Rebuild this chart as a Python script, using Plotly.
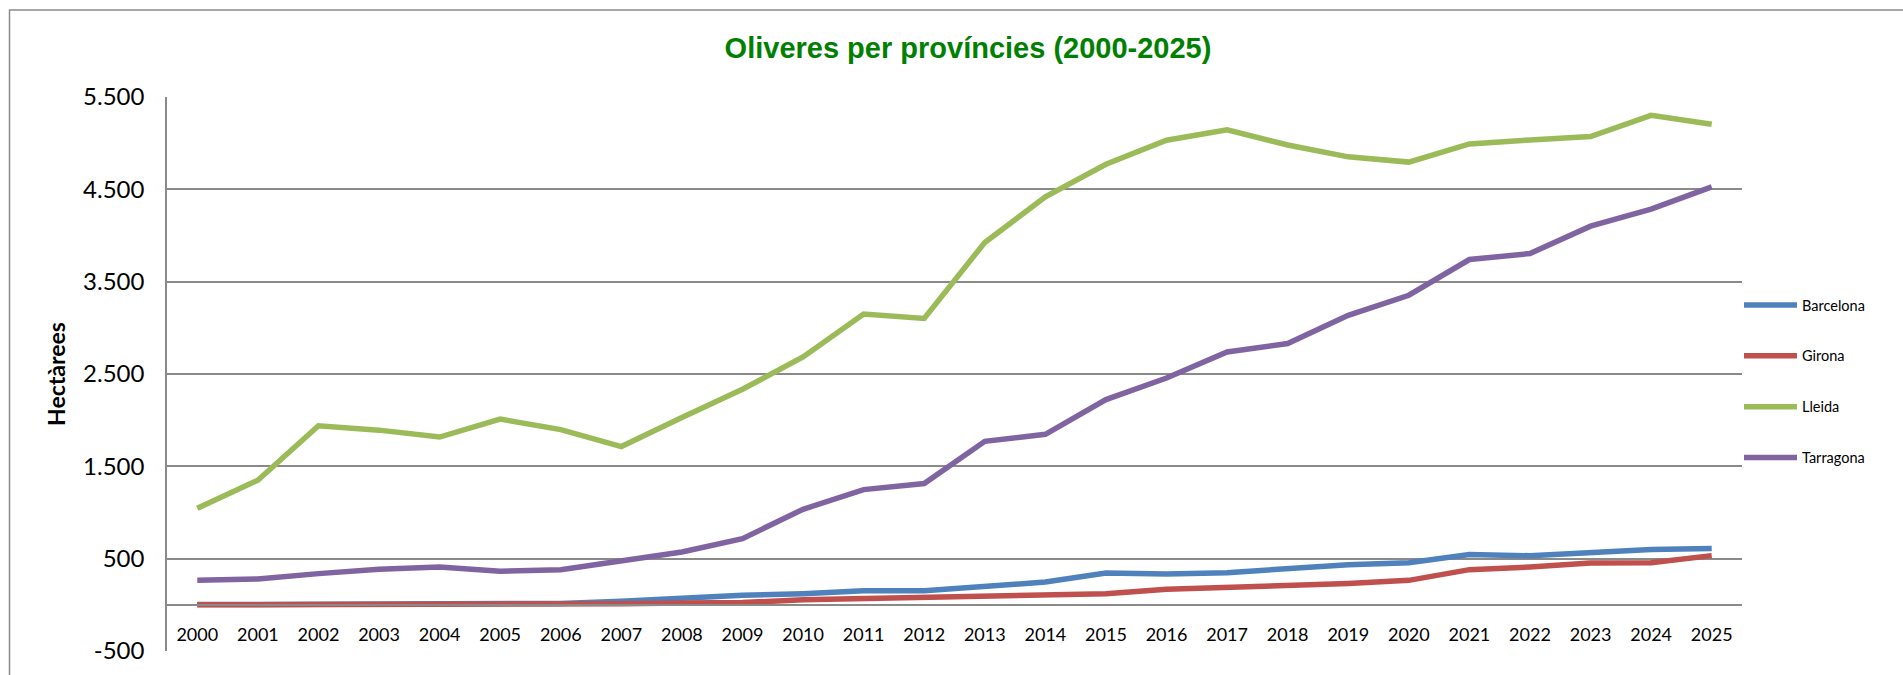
import plotly.graph_objects as go

years = [str(y) for y in range(2000, 2026)]

barcelona = [3, 3, 3, 3, 3, 8, 15, 40, 74, 103, 121, 153, 153, 204, 247, 345, 335, 348, 388, 435, 457, 544, 532, 565, 598, 609]
girona = [0, 0, 0, 0, 0, 5, 8, 12, 20, 24, 56, 70, 70, 85, 103, 121, 168, 190, 204, 230, 265, 381, 410, 453, 457, 533]
lleida = [1045, 1350, 1940, 1892, 1817, 2012, 1898, 1714, 2030, 2335, 2685, 3150, 3102, 3925, 4418, 4772,
          5032, 5145, 4980, 4852, 4795, 4992, 5035, 5072, 5302, 5205]
tarragona = [265, 280, 338, 385, 410, 363, 381, 482, 572, 717, 1035, 1248, 1313, 1771, 1847, 2223,
             2457, 2739, 2830, 3136, 3353, 3740, 3805, 4101, 4285, 4527]

series_names = ["Barcelona", "Girona", "Lleida", "Tarragona"]
series_values = [barcelona, girona, lleida, tarragona]
series_colors = ["#4F81BD", "#C0504D", "#9BBB59", "#8064A2"]

y_tickvals = [-500, 500, 1500, 2500, 3500, 4500, 5500]
y_ticktext = ["-500", "500", "1.500", "2.500", "3.500", "4.500", "5.500"]

title_text = "Oliveres per províncies (2000-2025)"
y_title = "Hectàrees"

W, H = 1903, 675
L, R, T, B = 167, 1742, 97, 651  # plot area pixels
GRID = "#8a8a8a"

fig = go.Figure()
for name, vals, col in zip(series_names, series_values, series_colors):
    fig.add_trace(go.Scatter(
        x=years, y=vals, name=name, mode="lines", legendgroup=name,
        line=dict(color=col, width=5.5),
    ))

ymin, ymax = -500, 5500
zero_frac = (0 - ymin) / (ymax - ymin)

fig.update_layout(
    width=W, height=H,
    margin=dict(l=L, r=W - R, t=T, b=H - B, autoexpand=False),
    paper_bgcolor="white", plot_bgcolor="white",
    font=dict(family="Lato, sans-serif", color="black"),
    title=dict(text="<b>" + title_text + "</b>", x=968 / W, xanchor="center", y=1 - 48 / H, yanchor="middle",
               font=dict(family="Liberation Sans, Arial, sans-serif", size=29, color="#008000"),
               xref="container", yref="container"),
    showlegend=True,
    legend=dict(x=-3 / (R - L) + 1.0, xanchor="left", y=(B - 289) / (B - T), yanchor="top",
                font=dict(size=14.5, family="Lato, sans-serif"),
                tracegroupgap=29, itemwidth=53, bgcolor="rgba(0,0,0,0)", borderwidth=0),
    xaxis=dict(
        type="category", anchor="free", position=zero_frac, range=[-0.5, len(years) - 0.5],
        showline=True, linecolor=GRID, linewidth=1.5,
        showgrid=False, zeroline=False,
        ticks="outside", ticklen=14, tickcolor="rgba(0,0,0,0)",
        tickfont=dict(size=18, family="Lato, sans-serif"),
    ),
    yaxis=dict(
        range=[ymin, ymax], tickvals=y_tickvals, ticktext=y_ticktext,
        showgrid=True, gridcolor=GRID, gridwidth=1.5,
        showline=True, linecolor=GRID, linewidth=1.5,
        zeroline=False,
        ticks="outside", ticklen=16, tickcolor="rgba(0,0,0,0)",
        tickfont=dict(size=24, family="Lato, sans-serif"),
        title=dict(text="<b>" + y_title + "</b>", standoff=11,
                   font=dict(size=23, family="Lato, sans-serif")),
    ),
)

# outer chart border (cropped on the right and bottom in the reference)
fig.add_shape(type="rect", xref="paper", yref="paper",
              x0=(9.5 - L) / (R - L), x1=(W + 20 - L) / (R - L),
              y0=(B - (H + 20)) / (B - T), y1=(B - 10) / (B - T),
              line=dict(color=GRID, width=1.5), fillcolor="rgba(0,0,0,0)", layer="below")

fig.write_html("out.html", config={"displayModeBar": False},
               post_script="document.body.style.margin='0px';")
